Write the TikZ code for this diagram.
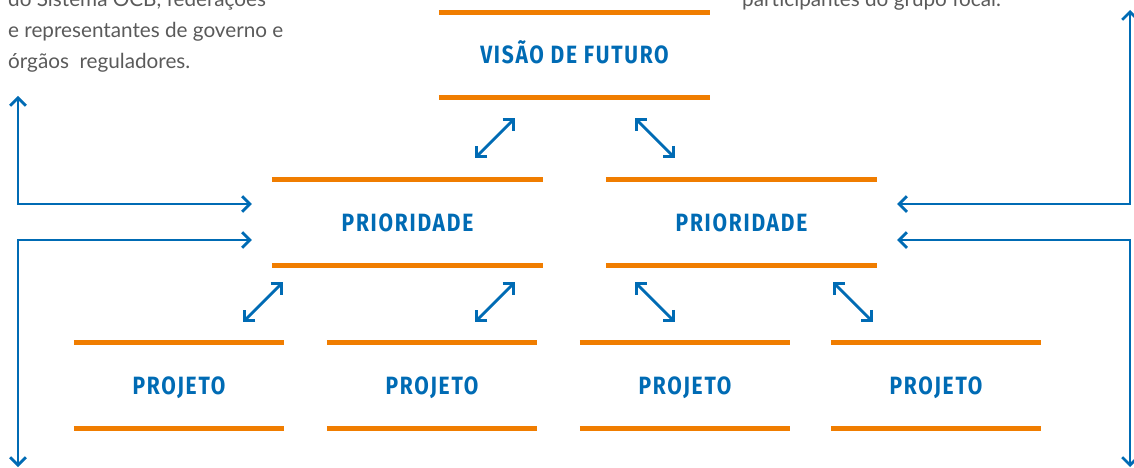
\documentclass[tikz,border=0pt]{standalone}
\usepackage{fontspec}
\setmainfont{Lato}
\newfontfamily\rotulofont[FakeStretch=0.84,LetterSpace=7]{Fira Sans}
\usetikzlibrary{arrows.meta}
\definecolor{azul}{RGB}{0,107,180}
\definecolor{laranja}{RGB}{240,125,0}
\definecolor{cinza}{RGB}{90,90,90}
\tikzset{
  regua/.style={draw=laranja, line width=5pt},
  bloco/.style={minimum width=#1, minimum height=85pt, inner sep=0pt,
    text height=17.5pt, text depth=0pt, text=azul,
    font=\rotulofont\bfseries\fontsize{25}{25}\selectfont,
    append after command={(\tikzlastnode.north west) edge[regua] (\tikzlastnode.north east)
      (\tikzlastnode.south west) edge[regua] (\tikzlastnode.south east)}},
  seta/.style={draw=azul, line width=2.8pt, -{Straight Barb[angle=90:11pt]}},
  dupla/.style={seta, {Straight Barb[angle=90:11pt]}-{Straight Barb[angle=90:11pt]}},
  nota/.style={font=\fontsize{20.7}{31}\selectfont, text=cinza, inner sep=0pt, align=left}
}
\begin{document}
\begin{tikzpicture}[x=1pt,y=-1pt]
  \useasboundingbox (0,0) rectangle (1134,468);
  \clip (0,0) rectangle (1134,468);
  %Notas
  \node[nota, anchor=base west] (notaesq) at (8,69) {do Sistema OCB, federações\\e representantes de governo e\\órgãos~ reguladores.};
  \node[nota, anchor=base west] (notadir) at (742,7) {participantes do grupo focal.};
  %Blocos
  \node[bloco=271pt] (visao) at (574.5,55) {VISÃO DE FUTURO};
  \node[bloco=271pt] (prio1) at (407.5,222.5) {PRIORIDADE};
  \node[bloco=271pt] (prio2) at (741.5,222.5) {PRIORIDADE};
  \node[bloco=210pt] (proj1) at (179,385.5) {PROJETO};
  \node[bloco=210pt] (proj2) at (432,385.5) {PROJETO};
  \node[bloco=210pt] (proj3) at (685,385.5) {PROJETO};
  \node[bloco=210pt] (proj4) at (936,385.5) {PROJETO};
  %Setas diagonais
  \draw[dupla] ([shift={(-99.5,60.5)}]visao.south) -- ([shift={(-59.5,20.5)}]visao.south);
  \draw[dupla] ([shift={(60.5,20.5)}]visao.south) -- ([shift={(100.5,60.5)}]visao.south);
  \draw[dupla] ([shift={(-164.5,57)}]prio1.south) -- ([shift={(-124.5,17)}]prio1.south);
  \draw[dupla] ([shift={(67.5,57)}]prio1.south) -- ([shift={(107.5,17)}]prio1.south);
  \draw[dupla] ([shift={(-106.5,17)}]prio2.south) -- ([shift={(-66.5,57)}]prio2.south);
  \draw[dupla] ([shift={(91.5,17)}]prio2.south) -- ([shift={(131.5,57)}]prio2.south);
  %Setas laterais
  \draw[dupla] (18,96) |- ([shift={(-20,-18.5)}]prio1.west);
  \draw[dupla] (18,467) |- ([shift={(-20,17.5)}]prio1.west);
  \draw[dupla] (1130,10) |- ([shift={(20,-18.5)}]prio2.east);
  \draw[dupla] (1130,467) |- ([shift={(20,17.5)}]prio2.east);
\end{tikzpicture}
\end{document}
